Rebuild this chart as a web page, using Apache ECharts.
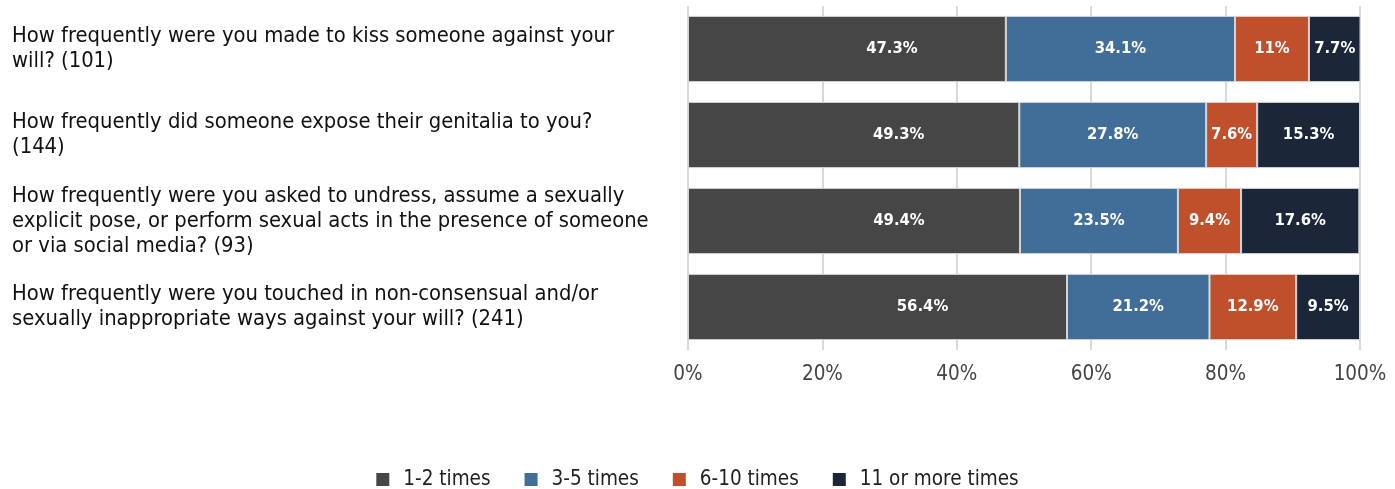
<!DOCTYPE html>
<html>
<head>
<meta charset="utf-8">
<script src="https://cdn.jsdelivr.net/npm/echarts@6/dist/echarts.min.js"></script>
<style>
  html, body { margin: 0; padding: 0; background: #fff; }
  #chart { width: 1395px; height: 489px; }
</style>
</head>
<body>
<div id="chart"></div>
<script>
// Survey questions (respondent count in brackets)
const questions = [
  'How frequently were you made to kiss someone against your\nwill? (101)',
  'How frequently did someone expose their genitalia to you?\n(144)',
  'How frequently were you asked to undress, assume a sexually\nexplicit pose, or perform sexual acts in the presence of someone\nor via social media? (93)',
  'How frequently were you touched in non-consensual and/or\nsexually inappropriate ways against your will? (241)'
];

// Share of respondents (%) per frequency band
const once1to2   = [47.3, 49.3, 49.4, 56.4];
const times3to5  = [34.1, 27.8, 23.5, 21.2];
const times6to10 = [11.0, 7.6, 9.4, 12.9];
const times11up  = [7.7, 15.3, 17.6, 9.5];

const seriesNames = ['1-2 times', '3-5 times', '6-10 times', '11 or more times'];
const xTicks = [0, 20, 40, 60, 80, 100];

const FONT = '"DejaVu Sans Condensed", "Liberation Sans Narrow", Roboto, sans-serif';
const colors = ['#464646', '#406e99', '#c0502b', '#1b2639'];

function barSeries(name, values, color, labelOffset) {
  return {
    name: name,
    type: 'bar',
    stack: 'total',
    data: values,
    barCategoryGap: '23%',
    itemStyle: { color: color, borderColor: '#d4d4d4', borderWidth: 1 },
    label: {
      show: true,
      position: 'inside',
      offset: labelOffset,
      color: '#fff',
      fontFamily: FONT,
      fontWeight: 'bold',
      fontSize: 16.5,
      formatter: p => p.value + '%'
    }
  };
}

const chart = echarts.init(document.getElementById('chart'), null, { renderer: 'canvas' });
chart.setOption({
  animation: false,
  textStyle: { fontFamily: FONT },
  grid: { left: 688, right: 35, top: 6, bottom: 139, containLabel: false },
  legend: {
    data: seriesNames,
    top: 464,
    left: 'center',
    icon: 'rect',
    itemWidth: 13,
    itemHeight: 13,
    itemGap: 34,
    itemStyle: { borderWidth: 0 },
    textStyle: { fontFamily: FONT, fontSize: 20.5, color: '#222', padding: [0, 0, 0, 9] }
  },
  xAxis: {
    type: 'value',
    min: 0,
    max: 100,
    interval: 20,
    axisLine: { show: false },
    axisTick: { show: false },
    splitLine: { show: true, lineStyle: { color: '#d9d9d9', width: 2 } },
    axisLabel: {
      margin: 14,
      fontFamily: FONT,
      fontSize: 20.5,
      color: '#444',
      formatter: v => xTicks.includes(v) ? v + '%' : ''
    }
  },
  yAxis: {
    type: 'category',
    inverse: true,
    data: questions,
    axisLine: { show: false },
    axisTick: { show: false },
    axisLabel: {
      align: 'left',
      margin: 676,
      fontFamily: FONT,
      fontSize: 21.8,
      lineHeight: 25,
      color: '#111'
    }
  },
  series: [
    barSeries(seriesNames[0], once1to2, colors[0], [45, 0]),
    barSeries(seriesNames[1], times3to5, colors[1], [0, 0]),
    barSeries(seriesNames[2], times6to10, colors[2], [0, 0]),
    barSeries(seriesNames[3], times11up, colors[3], [0, 0])
  ]
});
</script>
</body>
</html>
